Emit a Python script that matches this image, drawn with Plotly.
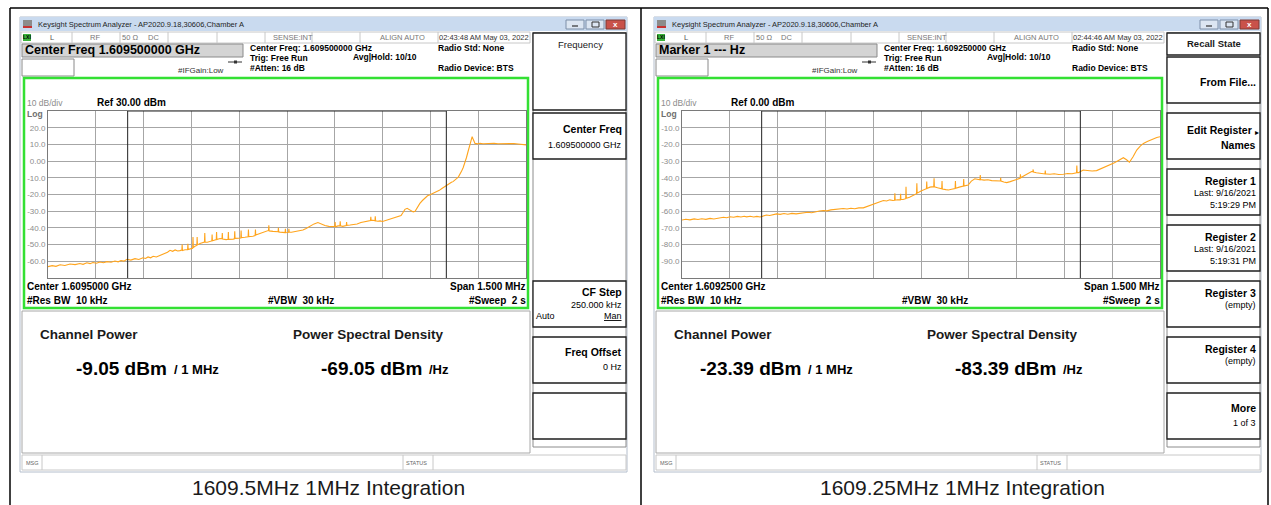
import plotly.graph_objects as go

# ------------------------------------------------------------------ data
span_khz = 1500
integ_bw_khz = 1000

left_ref_dbm = 30
right_ref_dbm = 0
left_ytick_vals = [20, 10, 0, -10, -20, -30, -40, -50, -60]
left_ytick_text = ["20.0", "10.0", "0.00", "-10.0", "-20.0", "-30.0", "-40.0", "-50.0", "-60.0"]
right_ytick_vals = [-10, -20, -30, -40, -50, -60, -70, -80, -90]
right_ytick_text = ["-10.0", "-20.0", "-30.0", "-40.0", "-50.0", "-60.0", "-70.0", "-80.0", "-90.0"]

left_freq_khz = [
    -750, -737, -725, -712, -697, -681, -665, -650, -640, -628, -618, -609, -598, -587, -576, -565,
    -552, -540, -530, -521, -512, -502, -490, -477, -465, -452, -444, -436, -428, -420, -410, -399,
    -390, -383, -375, -367, -359, -351, -343, -336, -330, -329, -328, -320, -312, -311, -310, -301,
    -296, -295, -294, -289, -283, -282, -281, -273, -265, -259, -258, -257, -250, -242, -236, -235,
    -234, -226, -222, -221, -220, -210, -204, -203, -202, -191, -185, -184, -183, -169, -165, -164,
    -163, -151, -145, -144, -143, -132, -122, -121, -120, -107, -100, -99, -98, -85, -75, -63,
    -58, -57, -56, -44, -33, -28, -27, -26, -22, -11, -6, -5, -4, 0, 5, 6,
    7, 14, 25, 37, 50, 60, 72, 85, 97, 108, 119, 131, 144, 150, 151, 152,
    160, 166, 167, 168, 175, 182, 186, 187, 188, 198, 210, 220, 232, 245, 258, 262,
    263, 264, 270, 276, 277, 278, 285, 292, 300, 310, 320, 330, 340, 350, 358, 364,
    370, 377, 383, 390, 396, 402, 407, 412, 417, 425, 433, 441, 449, 457, 464, 470,
    478, 486, 494, 502, 510, 516, 521, 527, 533, 538, 543, 548, 553, 558, 563, 568,
    573, 577, 581, 584, 587, 590, 598, 606, 615, 625, 637, 650, 662, 675, 688, 700,
    712, 725, 737, 750,
]
left_level_dbm = [
    -63.2, -62.6, -63.0, -62.1, -62.5, -61.6, -62.0, -61.3, -61.8, -60.9, -61.4, -60.7, -61.2, -60.4, -60.9, -60.2,
    -60.6, -59.8, -60.3, -59.5, -59.9, -58.8, -59.3, -58.4, -58.9, -57.9, -58.3, -57.4, -57.9, -57.0, -57.4, -56.6,
    -56.0, -55.2, -54.6, -53.4, -54.0, -53.2, -53.8, -53.6, -53.3, -50.0, -53.5, -53.1, -53.0, -49.5, -53.0, -52.4,
    -52.2, -45.5, -51.8, -51.0, -50.5, -45.5, -50.2, -49.4, -48.8, -48.5, -43.0, -48.4, -48.6, -48.3, -47.8, -44.0,
    -47.7, -47.2, -47.0, -42.5, -47.0, -46.4, -46.5, -43.0, -46.6, -47.0, -46.8, -42.5, -46.9, -46.7, -46.5, -42.0,
    -46.3, -46.2, -46.0, -41.5, -45.8, -45.6, -45.3, -41.0, -45.2, -45.0, -44.6, -41.0, -44.3, -43.4, -42.6, -41.6,
    -41.5, -38.5, -41.8, -42.1, -42.4, -42.3, -40.0, -42.4, -42.5, -42.9, -42.8, -40.5, -42.9, -42.8, -42.6, -40.5,
    -42.5, -42.6, -42.2, -41.9, -41.3, -40.4, -39.0, -37.6, -36.8, -37.8, -38.6, -39.1, -39.4, -39.2, -36.5, -39.3,
    -38.8, -38.7, -36.0, -38.8, -39.1, -38.7, -38.6, -36.5, -38.5, -38.3, -38.1, -37.7, -36.8, -36.3, -35.5, -35.6,
    -33.3, -35.5, -35.4, -35.7, -33.0, -35.8, -36.0, -35.8, -36.2, -35.6, -35.0, -34.4, -33.9, -33.5, -32.6, -30.8,
    -28.9, -28.3, -28.9, -29.8, -30.4, -30.0, -28.2, -26.4, -25.3, -23.6, -22.0, -20.8, -20.2, -19.5, -18.9, -18.6,
    -17.5, -16.4, -15.3, -14.3, -13.4, -12.7, -12.3, -11.5, -10.4, -9.4, -8.0, -6.0, -3.8, -1.3, 2.0, 5.6,
    9.5, 12.6, 14.6, 13.2, 11.0, 10.6, 10.3, 10.7, 10.4, 10.6, 10.5, 10.7, 10.4, 10.5, 10.6, 10.4,
    10.5, 10.2, 10.0, 9.7,
]

right_freq_khz = [
    -750, -738, -725, -712, -700, -688, -675, -662, -650, -641, -630, -620, -610, -599, -588, -576,
    -565, -555, -547, -536, -525, -515, -505, -495, -485, -475, -464, -453, -442, -430, -418, -405,
    -392, -380, -368, -355, -343, -331, -319, -307, -295, -283, -270, -257, -244, -232, -220, -208,
    -195, -181, -170, -160, -150, -140, -130, -118, -108, -98, -88, -83, -82, -81, -74, -65,
    -64, -63, -56, -48, -47, -46, -36, -24, -14, -13, -12, 0, 17, 18, 19, 28,
    39, 40, 41, 42, 52, 64, 65, 66, 67, 78, 86, 96, 107, 108, 109, 120,
    133, 134, 135, 148, 158, 169, 178, 185, 186, 187, 198, 210, 222, 235, 248, 249,
    250, 251, 260, 269, 280, 290, 300, 311, 312, 313, 322, 335, 347, 351, 352, 353,
    362, 375, 389, 390, 391, 394, 405, 418, 432, 447, 460, 474, 486, 488, 489, 490,
    494, 509, 522, 537, 551, 565, 579, 593, 607, 621, 635, 645, 654, 665, 677, 688,
    698, 710, 720, 729, 740, 750,
]
right_level_dbm = [
    -65.3, -64.8, -65.2, -64.6, -65.0, -64.5, -64.9, -64.3, -64.7, -64.4, -64.0, -63.6, -63.9, -63.3, -63.6, -63.1,
    -63.5, -63.0, -63.4, -63.0, -63.5, -63.1, -63.5, -62.8, -62.3, -62.6, -61.9, -61.6, -61.9, -61.4, -61.8, -61.3,
    -61.6, -61.4, -61.0, -60.6, -60.9, -60.3, -59.9, -59.6, -59.8, -59.2, -58.9, -58.7, -58.4, -58.7, -58.2, -58.5,
    -58.0, -58.0, -57.2, -56.4, -55.5, -54.8, -54.4, -53.6, -53.9, -53.2, -53.6, -53.5, -49.3, -53.4, -53.1, -53.2,
    -49.6, -53.0, -53.0, -52.5, -45.3, -52.3, -51.6, -50.5, -49.5, -43.3, -49.2, -47.9, -46.5, -42.3, -46.4, -45.6,
    -45.3, -45.3, -40.3, -45.4, -46.0, -46.6, -46.6, -41.9, -46.7, -47.1, -47.3, -46.9, -46.5, -41.9, -46.3, -45.6,
    -45.0, -40.7, -44.9, -44.3, -42.0, -40.6, -41.0, -41.2, -38.3, -41.0, -41.4, -41.2, -41.7, -41.6, -41.9, -41.9,
    -40.0, -42.0, -42.5, -42.9, -42.3, -41.8, -41.3, -40.3, -37.9, -40.0, -38.9, -37.4, -36.3, -36.3, -35.0, -36.5,
    -37.0, -37.5, -37.7, -35.6, -37.7, -37.7, -37.9, -37.6, -38.0, -37.9, -37.4, -37.6, -37.1, -37.0, -32.7, -36.9,
    -36.9, -35.3, -35.6, -35.9, -35.7, -34.6, -33.3, -32.3, -31.0, -29.5, -28.0, -29.2, -30.7, -27.5, -23.4, -21.0,
    -19.4, -18.2, -17.3, -16.4, -15.9, -15.4,
]

# ------------------------------------------------------------------ helpers (pixel -> paper)
W, H = 1271, 505
FONT = "Liberation Sans"
CAPTION_FONT = "Liberation Sans Narrow, Liberation Sans, Arial"
shapes, annotations = [], []


def X(px):
    return px / W


def Y(py):
    return 1 - py / H


def rect(x0, y0, x1, y1, fill=None, line=None, lw=1.0):
    shapes.append(dict(
        type="rect", xref="paper", yref="paper", layer="below",
        x0=X(x0), x1=X(x1), y0=Y(y1), y1=Y(y0),
        fillcolor=fill if fill else "rgba(0,0,0,0)",
        line=dict(color=line if line else "rgba(0,0,0,0)", width=lw if line else 0),
    ))


def seg(x0, y0, x1, y1, color, lw=1.0, layer="below"):
    shapes.append(dict(
        type="line", xref="paper", yref="paper", layer=layer,
        x0=X(x0), x1=X(x1), y0=Y(y0), y1=Y(y1), line=dict(color=color, width=lw),
    ))


def txt(x, y, s, size, color="#000000", bold=False, anchor="left", family=FONT):
    annotations.append(dict(
        xref="paper", yref="paper", x=X(x), y=Y(y), showarrow=False,
        text=f"<b>{s}</b>" if bold else s, xanchor=anchor, yanchor="middle",
        font=dict(size=size, color=color, family=family), borderpad=0,
    ))


def screen(dx, cfg):
    # window
    rect(dx + 20, 17, dx + 627, 472, fill="#FFFFFF", line="#B4BECC")
    rect(dx + 20, 17, dx + 627, 31, fill="#C9DAEF")
    rect(dx + 23, 20, dx + 32, 28, fill="#8C8C8C")
    rect(dx + 23, 26, dx + 32, 28, fill="#C83232")
    txt(dx + 37, 24.5, "Keysight Spectrum Analyzer - AP2020.9.18,30606,Chamber A", 7.5, "#1E1E1E")
    # window buttons
    rect(dx + 566, 20, dx + 584, 29, fill="#DCE6F2", line="#7D8FA8")
    seg(dx + 572, 26, dx + 578, 26, "#333333", 1.2)
    rect(dx + 586, 20, dx + 604, 29, fill="#DCE6F2", line="#7D8FA8")
    rect(dx + 592, 22, dx + 599, 27, line="#333333", lw=1)
    rect(dx + 606, 20, dx + 625, 29, fill="#C9524A", line="#7D3A35")
    txt(dx + 615.5, 24.5, "x", 8, "#FFFFFF", bold=True, anchor="center")
    # status row
    rect(dx + 21, 32, dx + 530, 43, fill="#FFFFFF", line="#C8C8C8")
    for sx in (72, 120, 168, 217, 265, 312, 360, 438):
        seg(dx + sx, 32, dx + sx, 43, "#C8C8C8")
    rect(dx + 23, 34, dx + 31, 41, fill="#39B339")
    txt(dx + 27, 37.5, "LXI", 5, "#000000", bold=True, anchor="center")
    txt(dx + 52, 38, "L", 7.5, "#555555", anchor="center")
    txt(dx + 95, 38, "RF", 7.5, "#777777", anchor="center")
    txt(dx + 130, 38, "50 \u03a9", 7.5, "#777777", anchor="center")
    txt(dx + 153, 38, "DC", 7.5, "#777777", anchor="center")
    txt(dx + 293, 38, "SENSE:INT", 7.5, "#777777", anchor="center")
    txt(dx + 402, 38, "ALIGN AUTO", 7.5, "#777777", anchor="center")
    txt(dx + 484, 38, cfg["time"], 7.5, "#333333", anchor="center")
    # active function box
    rect(dx + 22, 44, dx + 243, 57, fill="#D4D4D4", line="#8A8A8A")
    txt(dx + 24, 50.5, cfg["active"], 12.5, "#000000", bold=True)
    rect(dx + 22, 59, dx + 74, 76, fill="#FFFFFF", line="#8A8A8A")
    txt(dx + 177, 70.5, "#IFGain:Low", 8, "#333333")
    seg(dx + 228, 62, dx + 242, 62, "#333333", 1)
    rect(dx + 234, 60.5, dx + 237, 63.5, fill="#333333")
    # settings
    txt(dx + 249, 48.5, "Center Freq: " + cfg["cf_full"], 8.5, bold=True)
    txt(dx + 249, 58, "Trig: Free Run", 8.5, bold=True)
    txt(dx + 249, 67.5, "#Atten: 16 dB", 8.5, bold=True)
    txt(dx + 352, 57.5, "Avg|Hold: 10/10", 8.5, bold=True)
    txt(dx + 437, 48.5, "Radio Std: None", 8.5, bold=True)
    txt(dx + 437, 68, "Radio Device: BTS", 8.5, bold=True)
    # green graticule frame
    rect(dx + 24, 78, dx + 528, 308, line="#33E033", lw=2.5)
    txt(dx + 26, 103.5, "10 dB/div", 8.5, "#8C8C8C")
    txt(dx + 96, 103, f"Ref {cfg['ref']:.2f} dBm", 10, bold=True)
    txt(dx + 26, 114, "Log", 8.5, "#6E6E6E", bold=True)
    txt(dx + 26, 286.5, "Center " + cfg["cf_short"], 10, bold=True)
    txt(dx + 527, 286.5, "Span 1.500 MHz", 10, bold=True, anchor="right")
    txt(dx + 26, 300, "#Res BW  10 kHz", 10, bold=True)
    txt(dx + 267, 300, "#VBW  30 kHz", 10, bold=True)
    txt(dx + 527, 300, "#Sweep  2 s", 10, bold=True, anchor="right")
    # results panel
    rect(dx + 22, 311, dx + 530, 453, line="#A8A8A8")
    txt(dx + 39, 334, "Channel Power", 13.5, "#1A1A1A", bold=True)
    txt(dx + 292, 334, "Power Spectral Density", 13.5, "#1A1A1A", bold=True)
    txt(dx + 168, 368, cfg["cp"] + " dBm", 19, bold=True, anchor="right")
    txt(dx + 173, 369, "/ 1 MHz", 13, bold=True)
    txt(dx + 423, 368, cfg["psd"] + " dBm", 19, bold=True, anchor="right")
    txt(dx + 428, 369, "/Hz", 13, bold=True)
    # message bar
    rect(dx + 22, 455, dx + 626, 470, line="#C8C8C8")
    seg(dx + 42, 455, dx + 42, 470, "#C8C8C8")
    seg(dx + 403, 455, dx + 403, 470, "#C8C8C8")
    seg(dx + 433, 455, dx + 433, 470, "#C8C8C8")
    txt(dx + 25, 462.5, "MSG", 5.5, "#666666")
    txt(dx + 405, 462.5, "STATUS", 5.5, "#666666")
    # softkey column
    rect(dx + 533, 33, dx + 626, 447, fill="#FFFFFF", line="#8C8C8C")
    for (y0, y1) in cfg["keys"]:
        rect(dx + 533, y0, dx + 626, y1, fill="#FFFFFF", line="#1E1E1E", lw=1.3)
    for item in cfg["key_text"]:
        txt(dx + item[0], item[1], item[2], item[3], item[4], bold=item[5], anchor=item[6])
    # caption
    txt(dx + 328, 487, cfg["caption"], 21, "#1A1A1A", anchor="center", family=CAPTION_FONT)


K, S = 10.5, 9   # softkey label / sub-label sizes
left_cfg = dict(
    time="02:43:48 AM May 03, 2022", active="Center Freq 1.609500000 GHz",
    cf_full="1.609500000 GHz", cf_short="1.6095000 GHz", ref=left_ref_dbm,
    cp="-9.05", psd="-69.05", caption="1609.5MHz 1MHz Integration",
    keys=[(33, 110), (113, 159), (281, 327), (337, 383), (393, 439)],
    key_text=[
        (580, 45, "Frequency", 9.5, "#1A1A1A", False, "center"),
        (623, 129, "Center Freq", K, "#000000", True, "right"),
        (623, 145, "1.609500000 GHz", S, "#000000", False, "right"),
        (623, 292, "CF Step", K, "#000000", True, "right"),
        (623, 304.5, "250.000 kHz", S, "#000000", False, "right"),
        (535, 316, "Auto", S, "#000000", False, "left"),
        (623, 316, "<u>Man</u>", S, "#000000", False, "right"),
        (623, 352, "Freq Offset", K, "#000000", True, "right"),
        (623, 367, "0 Hz", S, "#000000", False, "right"),
    ],
)
right_cfg = dict(
    time="02:44:46 AM May 03, 2022", active="Marker 1 --- Hz",
    cf_full="1.609250000 GHz", cf_short="1.6092500 GHz", ref=right_ref_dbm,
    cp="-23.39", psd="-83.39", caption="1609.25MHz 1MHz Integration",
    keys=[(33, 55), (57, 103), (113, 159), (169, 215), (225, 271), (281, 327), (337, 383), (393, 439)],
    key_text=[
        (580, 44, "Recall State", 9.5, "#1A1A1A", True, "center"),
        (623, 82, "From File...", K, "#000000", True, "right"),
        (619, 130, "Edit Register", K, "#000000", True, "right"),
        (626, 132, "\u25b8", 8, "#000000", False, "right"),
        (623, 145, "Names", K, "#000000", True, "right"),
        (623, 181, "Register 1", K, "#000000", True, "right"),
        (623, 193, "Last: 9/16/2021", S, "#000000", False, "right"),
        (623, 205, "5:19:29 PM", S, "#000000", False, "right"),
        (623, 237, "Register 2", K, "#000000", True, "right"),
        (623, 249, "Last: 9/16/2021", S, "#000000", False, "right"),
        (623, 261, "5:19:31 PM", S, "#000000", False, "right"),
        (623, 293, "Register 3", K, "#000000", True, "right"),
        (623, 305, "(empty)", S, "#000000", False, "right"),
        (623, 349, "Register 4", K, "#000000", True, "right"),
        (623, 361, "(empty)", S, "#000000", False, "right"),
        (623, 408, "More", K, "#000000", True, "right"),
        (623, 423, "1 of 3", S, "#000000", False, "right"),
    ],
)

DX_RIGHT = 634
screen(0, left_cfg)
screen(DX_RIGHT, right_cfg)

# outer table borders
seg(10, 8, 1268, 8, "#000000", 1.5)
seg(10, 8, 10, 505, "#000000", 1.5)
seg(641, 8, 641, 505, "#000000", 1.5)
seg(1268, 8, 1268, 505, "#000000", 1.5)

# ------------------------------------------------------------------ traces
fig = go.Figure()
TRACE = "#FFA41C"
fig.add_trace(go.Scatter(x=left_freq_khz, y=left_level_dbm, mode="lines",
                         line=dict(color=TRACE, width=1.1), xaxis="x", yaxis="y", showlegend=False))
fig.add_trace(go.Scatter(x=right_freq_khz, y=right_level_dbm, mode="lines",
                         line=dict(color=TRACE, width=1.1), xaxis="x2", yaxis="y2", showlegend=False))

# integration bandwidth markers (data coordinates)
for xr, yr, ref in (("x", "y", left_ref_dbm), ("x2", "y2", right_ref_dbm)):
    lo, hi = -integ_bw_khz / 2, integ_bw_khz / 2
    for xv in (lo, hi):
        shapes.append(dict(type="line", xref=xr, yref=yr, x0=xv, x1=xv, y0=ref - 100, y1=ref,
                           line=dict(color="#222222", width=1), layer="above"))
    shapes.append(dict(type="line", xref=xr, yref=yr, x0=lo, x1=hi, y0=ref, y1=ref,
                       line=dict(color="#222222", width=1.2), layer="above"))

grid = "#A6A6A6"
xcommon = dict(range=[-span_khz / 2, span_khz / 2], dtick=span_khz / 10, tick0=-span_khz / 2,
               showticklabels=False, showgrid=True, gridcolor=grid, gridwidth=1, zeroline=False,
               showline=True, mirror=True, linecolor="#7A7A7A", linewidth=1, ticks="")
ycommon = dict(showgrid=True, gridcolor=grid, gridwidth=1, zeroline=False, showline=True, mirror=True,
               linecolor="#7A7A7A", linewidth=1, ticks="", tickfont=dict(size=8, color="#8C8C8C", family=FONT))

fig.update_layout(
    width=W, height=H, margin=dict(l=0, r=0, t=0, b=0),
    paper_bgcolor="#FFFFFF", plot_bgcolor="rgba(0,0,0,0)",
    xaxis=dict(domain=[X(48), X(526)], anchor="y", **xcommon),
    yaxis=dict(domain=[Y(278), Y(111)], anchor="x", range=[left_ref_dbm - 100, left_ref_dbm],
               tickvals=left_ytick_vals, ticktext=left_ytick_text, **ycommon),
    xaxis2=dict(domain=[X(48 + DX_RIGHT), X(526 + DX_RIGHT)], anchor="y2", **xcommon),
    yaxis2=dict(domain=[Y(278), Y(111)], anchor="x2", range=[right_ref_dbm - 100, right_ref_dbm],
                tickvals=right_ytick_vals, ticktext=right_ytick_text, **ycommon),
    shapes=shapes, annotations=annotations, showlegend=False,
)

fig.write_html("out.html", config={"displayModeBar": False},
               post_script="document.body.style.margin='0';")
